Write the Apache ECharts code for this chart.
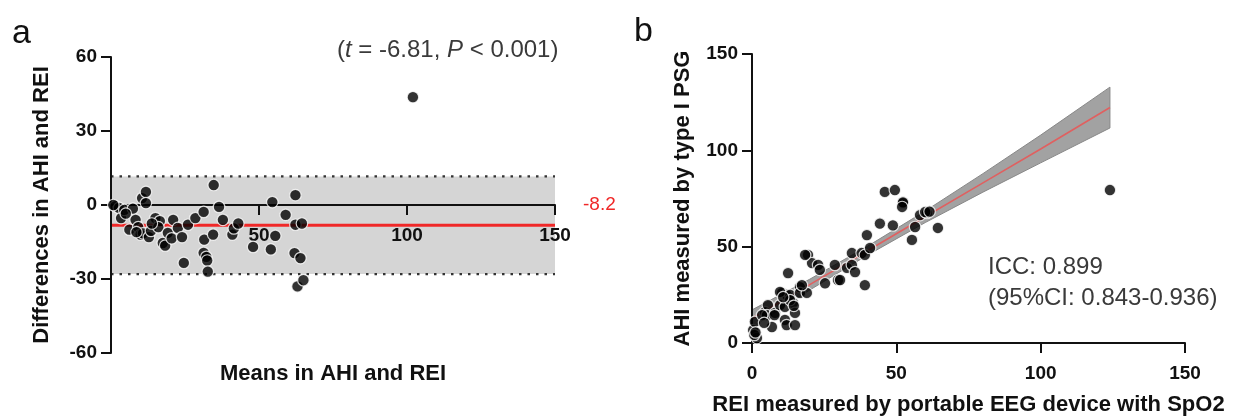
<!DOCTYPE html>
<html>
<head>
<meta charset="utf-8">
<script src="https://cdn.jsdelivr.net/npm/echarts@6/dist/echarts.min.js"></script>
<style>html,body{margin:0;padding:0;background:#fff;}#c{width:1247px;height:416px;}</style>
</head>
<body>
<div id="c"></div>
<script>
// ---------- Panel a: Bland-Altman ----------
const aXTicks = [0, 50, 100, 150];
const aYTicks = [-60, -30, 0, 30, 60];
const aMeans = [1.5, 2.7, 3.4, 4.5, 6.2, 7.4, 8.3, 9.2, 10, 10.5, 10.8, 11.8, 11.8, 12.8, 13.5, 15, 16.5, 16, 17.5, 18.3, 19.2, 20.5, 21, 22.6, 24, 24.6, 26, 28.5, 31.3, 31.5, 31.3, 32.2, 32.5, 32.7, 34.7, 34.5, 36.5, 37.8, 41, 41.5, 43, 48, 54.5, 54, 55.5, 59, 62.3, 62.3, 64.5, 62, 64, 63, 65, 102, 5, 13.8, 8.6, 0.8];
const aDiffs = [-0.5, -1.2, -5.3, -2, -10, -1.5, -6, -9, -12, 2.8, -11.5, 5.3, 0.8, -13, -10.5, -5.3, -6.5, -9, -15.4, -16.5, -11.3, -13.5, -6, -9.3, -13, -23.5, -8, -5.3, -2.8, -14, -19.4, -21, -22.5, -27, 8.1, -12, -0.8, -6, -12, -9.5, -7.5, -17, 1.2, -18, -12.5, -4, 4, -8, -7.5, -19.5, -21.5, -33, -30.5, 43.7, -3.5, -7.5, -11, 0];
const meanDiff = -8.2;
const loaUpper = 11.6;
const loaLower = -28.0;
const statText = ['t', ' = -6.81, ', 'P', ' < 0.001'];

// ---------- Panel b: agreement scatter ----------
const bTicks = [0, 50, 100, 150];
const bREI = [0.4, 1, 1.7, 0.8, 4.5, 5.5, 5.2, 6.9, 8, 9.7, 10.4, 11.4, 12, 12.5, 11.4, 12, 14.2, 14.9, 13.2, 16.6, 16.6, 19.4, 20.8, 22.9, 23.5, 25.3, 28.7, 29.8, 32.9, 44.3, 48.8, 39.8, 52.3, 58.2, 60.6, 56.5, 55.4, 64.4, 34.6, 38, 39.1, 34.6, 35.7, 39.1, 30.5, 18.4, 14.9, 13.2, 9.7, 3.5, 7.8, 4.2, 1.2, 46, 49.5, 52.3, 52, 60, 61.5, 40.9, 19, 17.3, 10.8, 14.5, 124];
const bAHI = [6.7, 11, 2.6, 4.2, 16, 19.7, 14.5, 8.3, 15.6, 19.7, 26, 18.7, 25, 36.3, 12, 9.3, 20.8, 9.3, 25, 29, 26, 45.7, 41.5, 40.5, 38, 31, 40.5, 32.7, 39, 62, 61, 56, 72.6, 66.4, 67.5, 60.2, 53.5, 59.7, 46.7, 46.7, 45.7, 40.5, 36.8, 30, 32.7, 45.7, 15.6, 22.3, 26.5, 14.5, 14.5, 10.4, 5.5, 78.4, 79.4, 73, 70.6, 68, 68.2, 49.3, 26, 30, 23.8, 19.3, 79.4];
const fitX = [0, 20, 40, 60, 80, 100, 124];
const fitY = [12.7, 30.3, 47.9, 65.5, 83.1, 100.7, 122.2];
const ciLow = [8.2, 27.5, 45.6, 62.5, 78.3, 93.5, 111.6];
const ciHigh = [17.2, 33.1, 50.2, 68.5, 87.9, 107.9, 132.8];
const iccText = ['ICC: 0.899', '(95%CI: 0.843-0.936)'];

const FONT = '"Liberation Sans", Arial, Helvetica, sans-serif';
const zip = (xs, ys) => xs.map((x, i) => [x, ys[i]]);

const axisCommon = {
  type: 'value',
  z: 3,
  splitLine: { show: false },
  axisLine: { show: true, onZero: false, lineStyle: { color: '#111', width: 2 } },
  axisTick: { show: true, inside: false, length: 10, lineStyle: { color: '#111', width: 2 } },
  nameTextStyle: { fontFamily: FONT, fontWeight: 'bold', fontSize: 22, color: '#111' },
  nameLocation: 'middle'
};
const lbl = (extra) => Object.assign({ fontFamily: FONT, fontWeight: 'bold', fontSize: 19, color: '#111' }, extra);
const dotStyle = { color: '#000', borderColor: '#fff', borderWidth: 1.2 };

// band polygon drawn through the axes' own scales
function bandRenderer(rows, fill, stroke) {
  return function (params, api) {
    if (params.dataIndex !== 0) return;
    const top = rows.map(r => api.coord([r[0], r[2]]));
    const bot = rows.map(r => api.coord([r[0], r[1]])).reverse();
    return {
      type: 'polygon', shape: { points: top.concat(bot) },
      style: { fill: fill, stroke: stroke || 'none', lineWidth: stroke ? 1 : 0 }
    };
  };
}
const aBandRows = [[aXTicks[0], loaLower, loaUpper], [aXTicks[aXTicks.length - 1], loaLower, loaUpper]];
const bBandRows = fitX.map((x, i) => [x, ciLow[i], ciHigh[i]]);

// grid layout
const gridA = { left: 111, top: 57, width: 444, height: 296, containLabel: false, outerBoundsMode: 'none' };
const gridB = { left: 752, top: 54, width: 433, height: 289, containLabel: false, outerBoundsMode: 'none' };
// panel a x axis crosses the y axis at 0: shift the whole axis up from the grid bottom
const aYMin = aYTicks[0], aYMax = aYTicks[aYTicks.length - 1];
const aXAxisOffset = -gridA.height * (0 - aYMin) / (aYMax - aYMin);

const chart = echarts.init(document.getElementById('c'), null, { renderer: 'canvas' });
chart.setOption({
  animation: false,
  backgroundColor: '#fff',
  grid: [gridA, gridB],
  xAxis: [
    Object.assign({}, axisCommon, {
      gridIndex: 0, min: aXTicks[0], max: aXTicks[aXTicks.length - 1], interval: aXTicks[1] - aXTicks[0],
      offset: aXAxisOffset,
      axisLabel: lbl({ margin: 21, formatter: v => (v === 0 ? '' : String(v)) }),
      name: 'Means in AHI and REI', nameGap: 158
    }),
    Object.assign({}, axisCommon, {
      gridIndex: 1, min: bTicks[0], max: bTicks[bTicks.length - 1], interval: bTicks[1] - bTicks[0],
      axisLabel: lbl({ margin: 21 }),
      name: 'REI measured by portable EEG device with SpO2', nameGap: 51
    })
  ],
  yAxis: [
    Object.assign({}, axisCommon, {
      gridIndex: 0, min: aYMin, max: aYMax, interval: aYTicks[1] - aYTicks[0],
      axisLabel: lbl({ margin: 14 }),
      name: 'Differences in AHI and REI', nameGap: 58
    }),
    Object.assign({}, axisCommon, {
      gridIndex: 1, min: bTicks[0], max: bTicks[bTicks.length - 1], interval: bTicks[1] - bTicks[0],
      axisLabel: lbl({ margin: 14 }),
      name: 'AHI measured by type I PSG', nameGap: 58
    })
  ],
  series: [
    // panel a: limits-of-agreement band
    {
      type: 'custom', xAxisIndex: 0, yAxisIndex: 0, z: 1, silent: true, clip: false,
      data: aBandRows, renderItem: bandRenderer(aBandRows, '#d5d5d5')
    },
    {
      type: 'line', xAxisIndex: 0, yAxisIndex: 0, z: 2, symbol: 'none', silent: true,
      data: [[aXTicks[0], loaUpper], [aXTicks[aXTicks.length - 1], loaUpper]],
      lineStyle: { color: '#333', width: 2.2, type: [2.5, 6] }
    },
    {
      type: 'line', xAxisIndex: 0, yAxisIndex: 0, z: 2, symbol: 'none', silent: true,
      data: [[aXTicks[0], loaLower], [aXTicks[aXTicks.length - 1], loaLower]],
      lineStyle: { color: '#333', width: 2.2, type: [2.5, 6] }
    },
    // panel a: mean difference line
    {
      type: 'line', xAxisIndex: 0, yAxisIndex: 0, z: 2, symbol: 'none', silent: true,
      data: [[aXTicks[0], meanDiff], [aXTicks[aXTicks.length - 1], meanDiff]],
      lineStyle: { color: '#f02828', width: 3 }
    },
    // panel a points
    {
      type: 'scatter', xAxisIndex: 0, yAxisIndex: 0, z: 6, symbolSize: 11.5,
      data: zip(aMeans, aDiffs), itemStyle: dotStyle
    },
    // panel b: CI band
    {
      type: 'custom', xAxisIndex: 1, yAxisIndex: 1, z: 1, silent: true, clip: false,
      data: bBandRows, renderItem: bandRenderer(bBandRows, '#a2a2a2', '#888888')
    },
    // panel b: regression line
    {
      type: 'line', xAxisIndex: 1, yAxisIndex: 1, z: 2, symbol: 'none', silent: true,
      data: zip(fitX, fitY), lineStyle: { color: '#e06060', width: 1.6 }
    },
    // panel b points
    {
      type: 'scatter', xAxisIndex: 1, yAxisIndex: 1, z: 6, symbolSize: 11.5,
      data: zip(bREI, bAHI), itemStyle: dotStyle
    }
  ],
  graphic: [
    { type: 'text', x: 12, y: 34, style: { text: 'a', fontFamily: FONT, fontSize: 34, fill: '#111', verticalAlign: 'middle' } },
    { type: 'text', x: 634, y: 32, style: { text: 'b', fontFamily: FONT, fontSize: 34, fill: '#111', verticalAlign: 'middle' } },
    {
      type: 'text', x: 337, y: 50,
      style: {
        text: '{n|(}{i|' + statText[0] + '}{n|' + statText[1] + '}{i|' + statText[2] + '}{n|' + statText[3] + ')}',
        fontFamily: FONT, fontSize: 24, fill: '#3a3a3a', verticalAlign: 'middle',
        rich: {
          i: { fontFamily: FONT, fontSize: 24, fontStyle: 'italic', fill: '#3a3a3a' },
          n: { fontFamily: FONT, fontSize: 24, fill: '#3a3a3a' }
        }
      }
    },
    { type: 'text', x: 583, y: 205, style: { text: String(meanDiff), fontFamily: FONT, fontSize: 19, fill: '#f02828', verticalAlign: 'middle' } },
    {
      type: 'text', x: 988, y: 252,
      style: { text: iccText.join('\n'), fontFamily: FONT, fontSize: 24, lineHeight: 31, fill: '#3a3a3a', verticalAlign: 'top' }
    }
  ]
});
</script>
</body>
</html>
